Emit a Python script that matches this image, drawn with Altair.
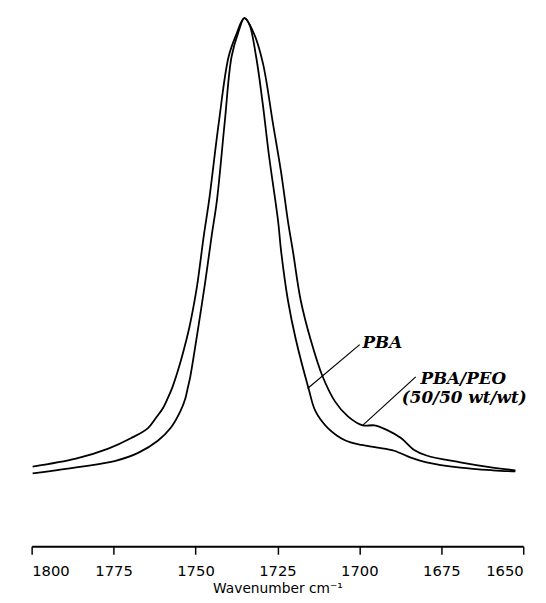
import altair as alt
import pandas as pd

# PBA/PEO (50/50 wt/wt) - broader band with shoulder near 1690 cm-1
blend_wn = [1799.7, 1786.5, 1776.6, 1769.6, 1764.5, 1762.1, 1760.0, 1758.5, 1757.0, 1755.5,
            1753.7, 1751.9, 1750.7, 1749.5, 1747.4, 1745.9, 1742.9, 1739.9, 1737.5, 1735.1,
            1732.1, 1729.4, 1726.4, 1723.9, 1721.8, 1720.3, 1717.9, 1714.9, 1711.3, 1707.4,
            1703.5, 1699.0, 1695.4, 1691.5, 1687.3, 1683.4, 1679.5, 1669.2, 1659.3, 1652.4]
blend_abs = [0.151, 0.166, 0.185, 0.205, 0.224, 0.243, 0.261, 0.280, 0.302, 0.330,
             0.369, 0.414, 0.451, 0.494, 0.591, 0.653, 0.802, 0.927, 0.970, 1.000,
             0.970, 0.914, 0.802, 0.709, 0.616, 0.560, 0.466, 0.392, 0.323, 0.274,
             0.246, 0.229, 0.229, 0.220, 0.205, 0.183, 0.172, 0.159, 0.149, 0.144]

# PBA - narrower band
pba_wn = [1799.7, 1784.7, 1774.4, 1767.5, 1761.5, 1757.6, 1754.6, 1753.1, 1752.4, 1751.6,
          1750.7, 1749.5, 1747.1, 1745.0, 1743.5, 1741.1, 1739.0, 1736.9, 1735.1, 1733.6,
          1731.5, 1729.4, 1727.6, 1724.8, 1723.9, 1721.8, 1719.4, 1715.5, 1713.4, 1709.6,
          1704.4, 1699.3, 1694.5, 1689.4, 1684.3, 1679.5, 1669.2, 1659.3, 1652.4]
pba_abs = [0.138, 0.151, 0.162, 0.177, 0.200, 0.224, 0.256, 0.280, 0.299, 0.321,
           0.354, 0.401, 0.498, 0.591, 0.653, 0.802, 0.927, 0.974, 1.000, 0.989,
           0.927, 0.834, 0.741, 0.616, 0.560, 0.466, 0.392, 0.299, 0.256, 0.224,
           0.201, 0.192, 0.187, 0.181, 0.168, 0.159, 0.149, 0.144, 0.142]

tick_values = [1800, 1775, 1750, 1725, 1700, 1675, 1650]

# annotation labels and leader lines (data units)
label_text = ["PBA", "PBA/PEO", "(50/50 wt/wt)"]
label_wn = [1693.0, 1668.3, 1668.0]
label_abs = [0.384, 0.317, 0.280]

leader_wn1 = [1699.9, 1682.8]
leader_abs1 = [0.382, 0.321]
leader_wn2 = [1715.8, 1699.0]
leader_abs2 = [0.299, 0.229]

rows = []
for i, (w, a) in enumerate(zip(blend_wn, blend_abs)):
    rows.append({"wn": w, "abs": a, "series": "PBA/PEO", "idx": i})
for i, (w, a) in enumerate(zip(pba_wn, pba_abs)):
    rows.append({"wn": w, "abs": a, "series": "PBA", "idx": i})
df = pd.DataFrame(rows)

xscale = alt.Scale(domain=[1800, 1650], nice=False, zero=False)
yscale = alt.Scale(domain=[0, 1.011], nice=False, zero=False)

lines = alt.Chart(df).mark_line(
    color="black", strokeWidth=1.8, interpolate="catmull-rom"
).encode(
    x=alt.X("wn:Q", scale=xscale,
            axis=alt.Axis(values=tick_values, title="Wavenumber  cm⁻¹", grid=False,
                          domainColor="black", domainWidth=2, tickColor="black",
                          tickWidth=1.5, tickSize=8, labelFont="DejaVu Sans",
                          labelFontSize=15, labelColor="black", labelPadding=10,
                          titleFont="DejaVu Sans", titleFontSize=14,
                          titleFontWeight="normal", titleColor="black",
                          titlePadding=3, format="d")),
    y=alt.Y("abs:Q", scale=yscale, axis=None),
    detail="series:N",
    order="idx:Q",
)

lab_df = pd.DataFrame({"text": label_text, "wn": label_wn, "abs": label_abs})
labels = alt.Chart(lab_df).mark_text(
    font="DejaVu Serif", fontSize=17, fontWeight="bold", fontStyle="italic",
    color="black", align="center", baseline="middle"
).encode(
    x=alt.X("wn:Q", scale=xscale),
    y=alt.Y("abs:Q", scale=yscale),
    text="text:N",
)

lead_df = pd.DataFrame({"w1": leader_wn1, "a1": leader_abs1,
                        "w2": leader_wn2, "a2": leader_abs2})
leaders = alt.Chart(lead_df).mark_rule(color="black", strokeWidth=1.2).encode(
    x=alt.X("w1:Q", scale=xscale),
    x2="w2:Q",
    y=alt.Y("a1:Q", scale=yscale),
    y2="a2:Q",
)

chart = alt.layer(lines, leaders, labels).properties(
    width=499, height=542,
    autosize=alt.AutoSizeParams(type="none"),
    padding={"left": 24, "top": 0, "right": 15, "bottom": 50},
    background="white",
).configure_view(stroke=None)

chart.save("out.html", embed_options={"renderer": "svg", "actions": False})
